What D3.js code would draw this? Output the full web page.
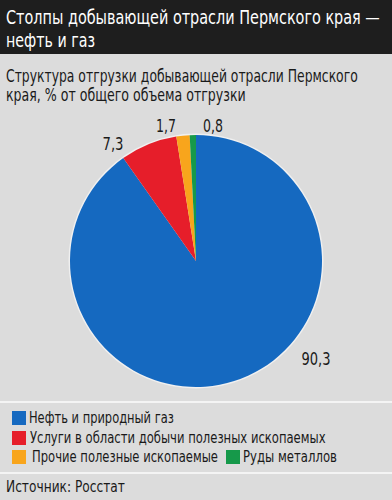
<!DOCTYPE html>
<html>
<head>
<meta charset="utf-8">
<script src="https://cdn.jsdelivr.net/npm/d3@7"></script>
<style>
  body { margin: 0; background: #dcdcdc; }
  svg text { font-family: "DejaVu Sans", sans-serif; font-stretch: condensed; }
</style>
</head>
<body>
<svg id="chart" width="392" height="500"></svg>
<script>
// данные
const categories = ["Нефть и природный газ", "Услуги в области добычи полезных ископаемых", "Прочие полезные ископаемые", "Руды металлов"];
const values = [90.3, 7.3, 1.7, 0.8];
const labels = ["90,3", "7,3", "1,7", "0,8"];
const colors = ["#1569c0", "#e61e2a", "#f8a51c", "#16994a"];

const width = 392;
const height = 500;
const svg = d3.select("#chart");

// текст сжимается по горизонтали под узкий шрифт оригинала
const addText = (parent, x, y, str, size, len, fill, anchor) => {
  const t = parent.append("text")
    .attr("x", 0)
    .attr("y", y)
    .attr("font-size", size)
    .attr("fill", fill || "#1a1a1a")
    .attr("text-anchor", anchor || "start")
    .text(str);
  const k = Math.min(1, len / t.node().getComputedTextLength());
  t.attr("transform", `translate(${x},0) scale(${k},1)`);
  return t;
};

svg.append("rect").attr("width", width).attr("height", height).attr("fill", "#dcdcdc");

// шапка
svg.append("rect").attr("width", width).attr("height", 54).attr("fill", "#1e1e1e");
addText(svg, 6, 24, "Столпы добывающей отрасли Пермского края —", 19.5, 374, "#fff");
addText(svg, 6, 47, "нефть и газ", 19.5, 89, "#fff");

addText(svg, 6, 82, "Структура отгрузки добывающей отрасли Пермского", 17, 352);
addText(svg, 6, 101, "края, % от общего объема отгрузки", 17, 240);

// пирог
const cx = 196, cy = 261, r = 126;
const pie = d3.pie().sort(null).value((d) => d)(values);
const arc = d3.arc().innerRadius(0).outerRadius(r);

const g = svg.append("g").attr("transform", `translate(${cx},${cy})`);
g.append("circle").attr("r", r + 1.5).attr("fill", "#f0f0f0");
g.selectAll("path")
  .data(pie)
  .join("path")
  .attr("d", arc)
  .attr("fill", (d, i) => colors[i]);

// подписи
const labelPos = [
  [120, 104, 29],
  [-83, -111, 21],
  [-30, -129, 20],
  [17, -129, 20],
];
pie.forEach((d, i) => {
  const p = labelPos[i];
  addText(g, p[0], p[1], labels[i], 18, p[2], "#1a1a1a", "middle");
});

// разделители
svg.append("rect").attr("x", 0).attr("y", 401).attr("width", width).attr("height", 2).attr("fill", "#f4f4f4");
svg.append("rect").attr("x", 0).attr("y", 472).attr("width", width).attr("height", 2).attr("fill", "#f4f4f4");

// легенда
const legendItems = [
  { i: 0, x: 12, y: 411, tx: 29, len: 145 },
  { i: 1, x: 12, y: 431, tx: 30, len: 296 },
  { i: 2, x: 12, y: 450, tx: 32, len: 186 },
  { i: 3, x: 226, y: 450, tx: 243, len: 94 },
];
legendItems.forEach((d) => {
  svg.append("rect")
    .attr("x", d.x)
    .attr("y", d.y)
    .attr("width", 14)
    .attr("height", 14)
    .attr("fill", colors[d.i]);
  addText(svg, d.tx, d.y + 12.5, categories[d.i], 16, d.len);
});

addText(svg, 6, 492, "Источник: Росстат", 16, 119);
</script>
</body>
</html>
